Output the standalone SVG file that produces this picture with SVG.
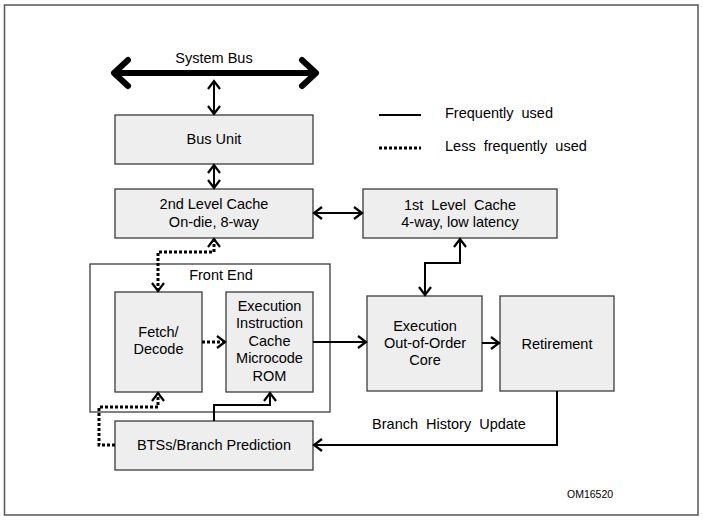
<svg xmlns="http://www.w3.org/2000/svg" width="703" height="520" viewBox="0 0 703 520">
<defs>
<marker id="ah" viewBox="0 0 12 14" refX="10" refY="7" markerWidth="12" markerHeight="14" markerUnits="userSpaceOnUse" orient="auto-start-reverse">
<path d="M2,1 L10,7 L2,13" fill="none" stroke="#000" stroke-width="2.2"/>
</marker>
</defs>
<style>
.box{fill:#eeeeee;stroke:#3c3c3c;stroke-width:1.3}
.frame{fill:#fff;stroke:#3c3c3c;stroke-width:1.3}
.t{font-family:"Liberation Sans",Arial,sans-serif;font-size:14.5px;fill:#000;text-anchor:middle}
.l{text-anchor:start}
.s{fill:none;stroke:#000;stroke-width:2}
.d{fill:none;stroke:#000;stroke-width:3;stroke-dasharray:3 2}
</style>
<rect x="0" y="0" width="703" height="520" fill="#fff"/>
<rect x="4.5" y="5" width="693.5" height="510" fill="#fff" stroke="#555" stroke-width="1.5"/>

<g id="system-bus">
<text class="t" x="214" y="63">System Bus</text>
<g fill="none" stroke="#000" stroke-width="6" stroke-linecap="round" stroke-linejoin="round">
<line x1="116" y1="73" x2="314" y2="73"/>
<polyline points="128,60 114,73 128,86"/>
<polyline points="302,60 316,73 302,86"/>
</g>
</g>

<g id="bus-unit">
<rect class="box" x="115" y="115" width="198" height="49"/>
<text class="t" x="214" y="144">Bus Unit</text>
</g>

<g id="l2-cache">
<rect class="box" x="115" y="189" width="198" height="49"/>
<text class="t" x="214" y="209">2nd Level Cache</text>
<text class="t" x="214" y="227">On-die, 8-way</text>
</g>

<g id="l1-cache">
<rect class="box" x="363" y="189" width="194" height="49"/>
<text class="t" x="460" y="210" word-spacing="4">1st Level Cache</text>
<text class="t" x="460" y="227">4-way, low latency</text>
</g>

<g id="front-end">
<rect class="frame" x="90" y="264" width="240" height="148"/>
<text class="t" x="221" y="280">Front End</text>
</g>

<g id="fetch-decode">
<rect class="box" x="115" y="292" width="87" height="100"/>
<text class="t" x="158.5" y="337">Fetch/</text>
<text class="t" x="158.5" y="354">Decode</text>
</g>

<g id="exec-icache">
<rect class="box" x="226" y="292" width="87" height="100"/>
<text class="t" x="269.5" y="311">Execution</text>
<text class="t" x="269.5" y="328">Instruction</text>
<text class="t" x="269.5" y="346">Cache</text>
<text class="t" x="269.5" y="363">Microcode</text>
<text class="t" x="269.5" y="381">ROM</text>
</g>

<g id="ooo-core">
<rect class="box" x="367" y="296" width="115" height="95"/>
<text class="t" x="425" y="331">Execution</text>
<text class="t" x="425" y="348">Out-of-Order</text>
<text class="t" x="425" y="365">Core</text>
</g>

<g id="retirement">
<rect class="box" x="500" y="296" width="114" height="95"/>
<text class="t" x="557" y="349">Retirement</text>
</g>

<g id="btb">
<rect class="box" x="115" y="421" width="198" height="49"/>
<text class="t" x="214" y="450">BTSs/Branch Prediction</text>
</g>

<g id="legend">
<line class="s" x1="379" y1="115" x2="421" y2="115"/>
<text class="t l" x="445" y="118" word-spacing="4">Frequently used</text>
<line class="d" x1="379" y1="148" x2="421" y2="148"/>
<text class="t l" x="445" y="151" word-spacing="4">Less frequently used</text>
</g>

<g id="connectors">
<line class="s" x1="214" y1="81" x2="214" y2="114" marker-start="url(#ah)" marker-end="url(#ah)"/>
<line class="s" x1="214" y1="165" x2="214" y2="188" marker-start="url(#ah)" marker-end="url(#ah)"/>
<line class="s" x1="314" y1="213" x2="362" y2="213" marker-start="url(#ah)" marker-end="url(#ah)"/>
<polyline class="s" points="460,239 460,263 425,263 425,295" marker-start="url(#ah)" marker-end="url(#ah)"/>
<polyline class="d" points="214,239 214,252 158,252 158,291" marker-start="url(#ah)" marker-end="url(#ah)"/>
<line class="d" x1="202" y1="342" x2="225" y2="342" marker-end="url(#ah)"/>
<line class="s" x1="313" y1="342" x2="366" y2="342" marker-end="url(#ah)"/>
<line class="s" x1="482" y1="343" x2="499" y2="343" marker-end="url(#ah)"/>
<polyline class="s" points="557,391 557,445 314,445" marker-end="url(#ah)"/>
<polyline class="s" points="214,421 214,405 270,405 270,393" marker-end="url(#ah)"/>
<polyline class="d" points="115,445 99,445 99,407 158,407 158,393" marker-end="url(#ah)"/>
<text class="t" x="449" y="429" word-spacing="4">Branch History Update</text>
</g>

<text x="567" y="498" font-family="'Liberation Sans',Arial,sans-serif" font-size="10.5" fill="#000">OM16520</text>
</svg>
